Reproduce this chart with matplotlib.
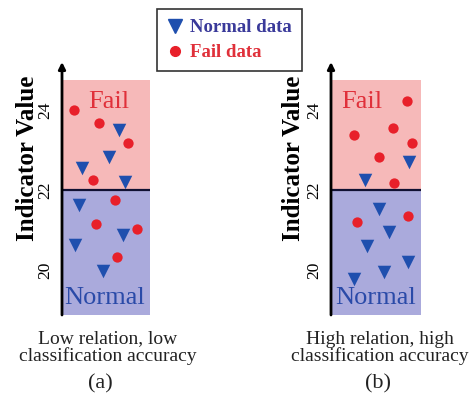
import matplotlib.pyplot as plt
from matplotlib.lines import Line2D

plt.rcParams['font.family'] = ['Liberation Serif', 'DejaVu Serif']

# panel (a): low relation
a_fail_x = [0.14, 0.42, 0.75, 0.35, 0.60, 0.39, 0.85, 0.63]
a_fail_y = [24.0, 23.68, 23.18, 22.25, 21.75, 21.15, 21.03, 20.33]
a_norm_x = [0.65, 0.53, 0.23, 0.72, 0.19, 0.15, 0.69, 0.47]
a_norm_y = [23.5, 22.83, 22.55, 22.2, 21.63, 20.63, 20.88, 19.98]

# panel (b): high relation
b_fail_x = [0.84, 0.26, 0.69, 0.90, 0.53, 0.70, 0.29, 0.86]
b_fail_y = [24.23, 23.38, 23.55, 23.18, 22.83, 22.18, 21.2, 21.35]
b_norm_x = [0.87, 0.38, 0.53, 0.64, 0.40, 0.86, 0.59, 0.26]
b_norm_y = [22.7, 22.25, 21.53, 20.95, 20.6, 20.2, 19.95, 19.78]

threshold = 22
yticks = [20, 22, 24]
captions = ['Low relation, low\nclassification accuracy',
            'High relation, high\nclassification accuracy']
letters = ['(a)', '(b)']

PINK = '#f6b9b9'
LAVENDER = '#aaaadc'
RED = '#e8202a'
BLUE = '#1f4fae'

fig = plt.figure(figsize=(4.76, 3.96), dpi=100)

y_lo, y_top, y_arrow = 18.875, 24.75, 25.2
# left, width, fail text x / ha, normal text x, caption centre, letter centre (pixels)
panels = [
    (62, 88, a_fail_x, a_fail_y, a_norm_x, a_norm_y, 0.53, 'center', 0.48, 108, 100),
    (331, 90, b_fail_x, b_fail_y, b_norm_x, b_norm_y, 0.11, 'left', 0.5, 380, 378),
]
bottom = 1 - 315 / 396
height = (315 - 62) / 396

for i, (lpx, wpx, fx, fy, nx, ny, fail_x, fail_ha, norm_x, cap_x, let_x) in enumerate(panels):
    ax = fig.add_axes([lpx / 476, bottom, wpx / 476, height])
    ax.set_xlim(0, 1)
    ax.set_ylim(y_lo, y_arrow)
    ax.axhspan(threshold, y_top, color=PINK, lw=0, zorder=0)
    ax.axhspan(y_lo, threshold, color=LAVENDER, lw=0, zorder=0)
    ax.axhline(threshold, color='#111133', lw=1.6, zorder=1)
    for s in ['top', 'right', 'bottom', 'left']:
        ax.spines[s].set_visible(False)
    ax.annotate('', xy=(0, y_arrow), xytext=(0, y_lo), xycoords='data',
                arrowprops=dict(arrowstyle='-|>', color='black', lw=2,
                                mutation_scale=10, shrinkA=0, shrinkB=0),
                annotation_clip=False)
    ax.scatter(fx, fy, s=55, color=RED, marker='o', lw=0, zorder=3)
    ax.scatter(nx, ny, s=95, color=BLUE, marker='v', lw=0, zorder=3)
    ax.set_xticks([])
    ax.set_yticks(yticks)
    ax.set_yticklabels([str(t) for t in yticks], rotation=90, va='center', fontsize=12.5)
    ax.tick_params(axis='y', length=0, pad=6)
    ax.set_ylabel('Indicator Value', fontsize=18, fontweight='bold')
    ax.yaxis.set_label_coords((lpx - 23 - (3 if i else 0) - lpx) / wpx, 0.62)
    ax.text(fail_x, 24.2, 'Fail', color='#e0303a', fontsize=19, ha=fail_ha, va='center')
    ax.text(norm_x, 19.3, 'Normal', color='#2a4aa8', fontsize=19, ha='center', va='center')
    fig.text(cap_x / 476, 1 - 348 / 396, captions[i], ha='center', va='center',
             fontsize=14, color='#222222', linespacing=1.0)
    fig.text(let_x / 476, 1 - 384 / 396, letters[i], ha='center', va='center',
             fontsize=16, color='#222222')

handles = [
    Line2D([], [], marker='v', color=BLUE, lw=0, markersize=10),
    Line2D([], [], marker='o', color=RED, lw=0, markersize=7),
]
leg = fig.legend(handles, ['Normal data', 'Fail data'], loc='upper left',
                 bbox_to_anchor=(157 / 476, 1 - 9 / 396), frameon=True,
                 fancybox=False, edgecolor='black', handlelength=0.8,
                 handletextpad=0.4, borderpad=0.55, labelspacing=0.4,
                 borderaxespad=0, prop={'weight': 'bold', 'size': 13.5})
leg.get_frame().set_linewidth(1.2)
for t, c in zip(leg.get_texts(), ['#3a3a9a', '#e0303a']):
    t.set_color(c)

fig.savefig('out.png', dpi=100)
